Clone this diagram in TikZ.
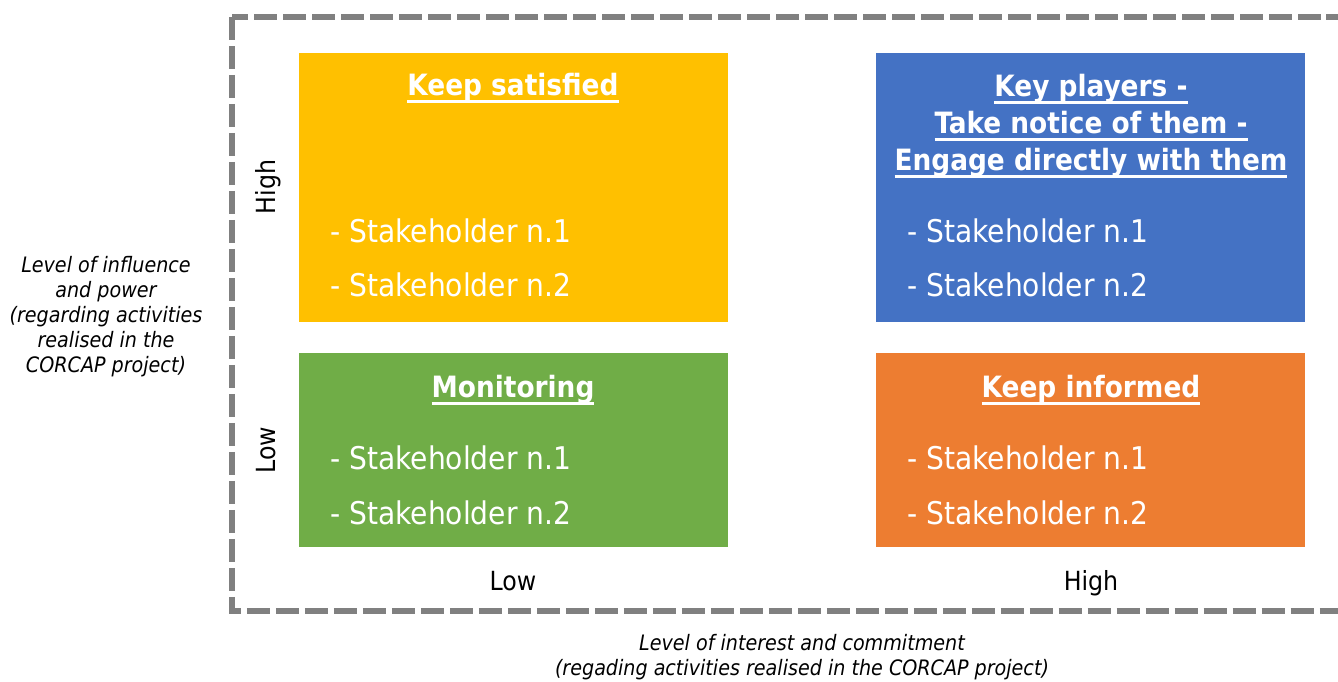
\documentclass[tikz,border=0pt]{standalone}
\usepackage{fontspec}
\setmainfont{DejaVu Sans Condensed}[BoldFont={DejaVu Sans Condensed Bold}, ItalicFont={DejaVu Sans Condensed Oblique}]

\definecolor{satisfiedyellow}{HTML}{FFC000}
\definecolor{playersblue}{HTML}{4472C4}
\definecolor{monitorgreen}{HTML}{70AD47}
\definecolor{informedorange}{HTML}{ED7D31}
\definecolor{framegray}{HTML}{808080}

% thick underline for the headings
\newsavebox{\headingbox}
\newcommand{\underscored}[1]{%
    \sbox{\headingbox}{#1}%
    \leavevmode\rlap{\rule[-4.2pt]{\wd\headingbox}{1.8pt}}\usebox{\headingbox}}

\begin{document}
\begin{tikzpicture}[
        x=0.02cm, y=-0.02cm,
        quadrant/.style={rectangle, minimum width=8.58cm, inner sep=0pt},
        heading/.style={text=white, font=\fontsize{16.7}{21}\selectfont\bfseries, align=center},
        member/.style={text=white, anchor=west, inner sep=0pt, font=\fontsize{17.8}{21}\selectfont},
        level/.style={font=\fontsize{15}{18}\selectfont},
        axis/.style={font=\fontsize{12.1}{14.2}\selectfont\itshape, align=center},
        frame/.style={draw=framegray, line width=0.12cm, dash pattern=on 0.46cm off 0.12cm}
    ]
        \useasboundingbox (0,0) rectangle (1338,681);

        % Dashed frame, open to the right
        \begin{scope}
            \clip (0,0) rectangle (1338,681);
            \draw[frame] (232,17) rectangle (1400,611);
        \end{scope}

        % Quadrants
        \node[quadrant, minimum height=5.38cm, fill=satisfiedyellow] (satisfied) at (513.5,187.5) {};
        \node[quadrant, minimum height=5.38cm, fill=playersblue] (players) at (1090.5,187.5) {};
        \node[quadrant, minimum height=3.88cm, fill=monitorgreen] (monitoring) at (513.5,450) {};
        \node[quadrant, minimum height=3.88cm, fill=informedorange] (informed) at (1090.5,450) {};

        % Headings
        \node[heading] (satisfiedtitle) at (513,88) {\underscored{Keep satisfied}};
        \node[heading] (playerstitle) at (1091,126) {\underscored{Key players -}\\\underscored{Take notice of them -}\\\underscored{Engage directly with them}};
        \node[heading] (monitoringtitle) at (513,390) {\underscored{Monitoring}};
        \node[heading] (informedtitle) at (1091,390) {\underscored{Keep informed}};

        % Stakeholders
        \node[member] (satisfiedone) at (330,231) {- Stakeholder n.1};
        \node[member] (satisfiedtwo) at (330,285) {- Stakeholder n.2};
        \node[member] (playersone) at (907,231) {- Stakeholder n.1};
        \node[member] (playerstwo) at (907,285) {- Stakeholder n.2};
        \node[member] (monitoringone) at (330,458) {- Stakeholder n.1};
        \node[member] (monitoringtwo) at (330,513) {- Stakeholder n.2};
        \node[member] (informedone) at (907,458) {- Stakeholder n.1};
        \node[member] (informedtwo) at (907,513) {- Stakeholder n.2};

        % Levels
        \node[level, rotate=90] (highpower) at (268,187) {High};
        \node[level, rotate=90] (lowpower) at (266,450) {Low};
        \node[level] (lowinterest) at (513,581) {Low};
        \node[level] (highinterest) at (1091,583) {High};

        % Axis titles
        \node[axis] (powertitle) at (106,317) {Level of influence\\and power\\(regarding activities\\realised in the\\CORCAP project)};
        \node[axis] (interesttitle) at (802,657) {Level of interest and commitment\\(regading activities realised in the CORCAP project)};

    \end{tikzpicture}
\end{document}
